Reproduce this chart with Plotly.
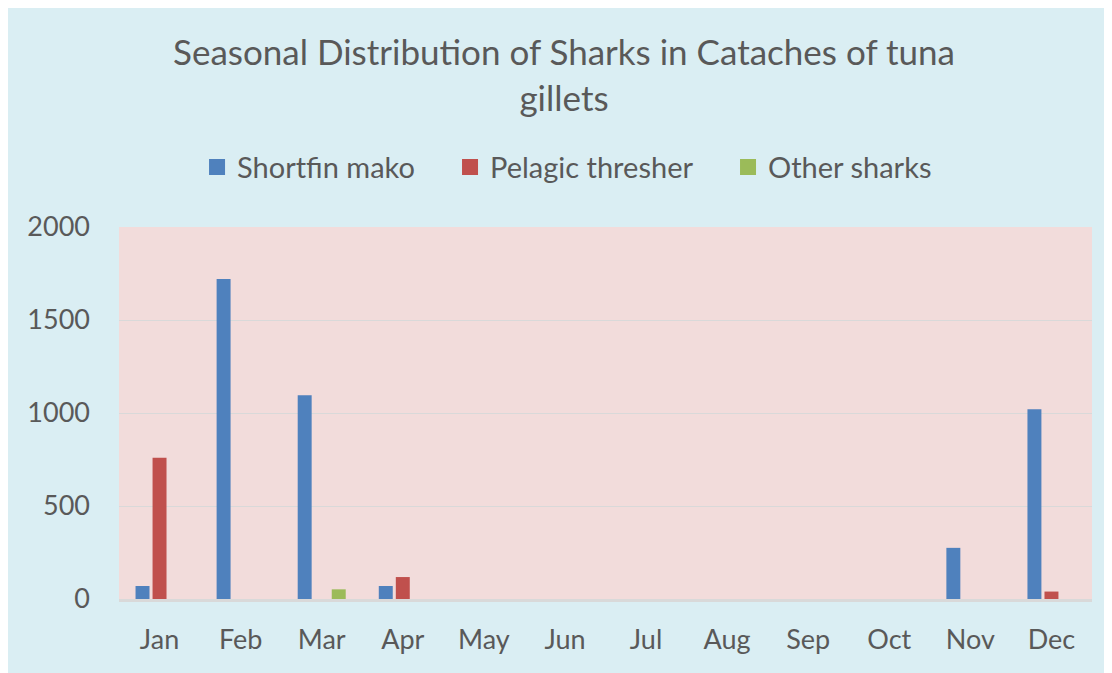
import plotly.graph_objects as go

months = ["Jan", "Feb", "Mar", "Apr", "May", "Jun", "Jul", "Aug", "Sep", "Oct", "Nov", "Dec"]
shortfin_mako = [70, 1720, 1095, 70, 0, 0, 0, 0, 0, 0, 275, 1020]
pelagic_thresher = [760, 0, 0, 118, 0, 0, 0, 0, 0, 0, 0, 40]
other_sharks = [0, 0, 52, 0, 0, 0, 0, 0, 0, 0, 0, 0]
series = [("Shortfin mako", shortfin_mako, "#4F81BD"),
          ("Pelagic thresher", pelagic_thresher, "#C0504D"),
          ("Other sharks", other_sharks, "#9BBB59")]

FONT = "Lato"
GREY = "#595959"
legend_ids = ["legend", "legend2", "legend3"]
legend_x = [0.1700, 0.3975, 0.6475]

fig = go.Figure()
for name, vals, col in series:
    fig.add_trace(go.Bar(name=name, x=months, y=vals, showlegend=False,
                         legendgroup=name,
                         marker=dict(color=col, line=dict(width=0))))
for (name, vals, col), lid in zip(series, legend_ids):
    fig.add_trace(go.Scatter(name=name, x=[None], y=[None], mode="markers",
                             legendgroup=name, legend=lid,
                             marker=dict(symbol="square", size=18, color=col)))

leg_common = dict(orientation="h", xanchor="left", y=0.7635, yanchor="middle",
                  xref="container", yref="container",
                  font=dict(size=29, color=GREY, family=FONT),
                  bgcolor="rgba(0,0,0,0)", itemwidth=30)

fig.update_layout(
    width=1112, height=673,
    barmode="group", bargap=0.37, bargroupgap=0.18,
    paper_bgcolor="#DAEEF3", plot_bgcolor="#F2DCDB",
    margin=dict(l=111, r=28, t=219, b=82),
    font=dict(family=FONT, color=GREY, size=27),
    title=dict(text="Seasonal Distribution of Sharks in Cataches of tuna<br>gillets",
               x=0.5, xanchor="center", y=0.915, yanchor="middle",
               font=dict(family=FONT, size=35, color=GREY)),
    legend=dict(x=legend_x[0], **leg_common),
    legend2=dict(x=legend_x[1], **leg_common),
    legend3=dict(x=legend_x[2], **leg_common),
    showlegend=True,
)
fig.update_yaxes(range=[0, 2000], tickvals=[0, 500, 1000, 1500, 2000],
                 showgrid=True, gridcolor="#D9D9D9", gridwidth=1,
                 zeroline=False, showline=False, ticks="",
                 ticklabelstandoff=28, tickfont=dict(size=27, color=GREY))
fig.update_xaxes(showline=True, linecolor="#D9D9D9", linewidth=3, ticks="",
                 ticklabelstandoff=15, tickfont=dict(size=27, color=GREY))

fig.write_html("out.html")
